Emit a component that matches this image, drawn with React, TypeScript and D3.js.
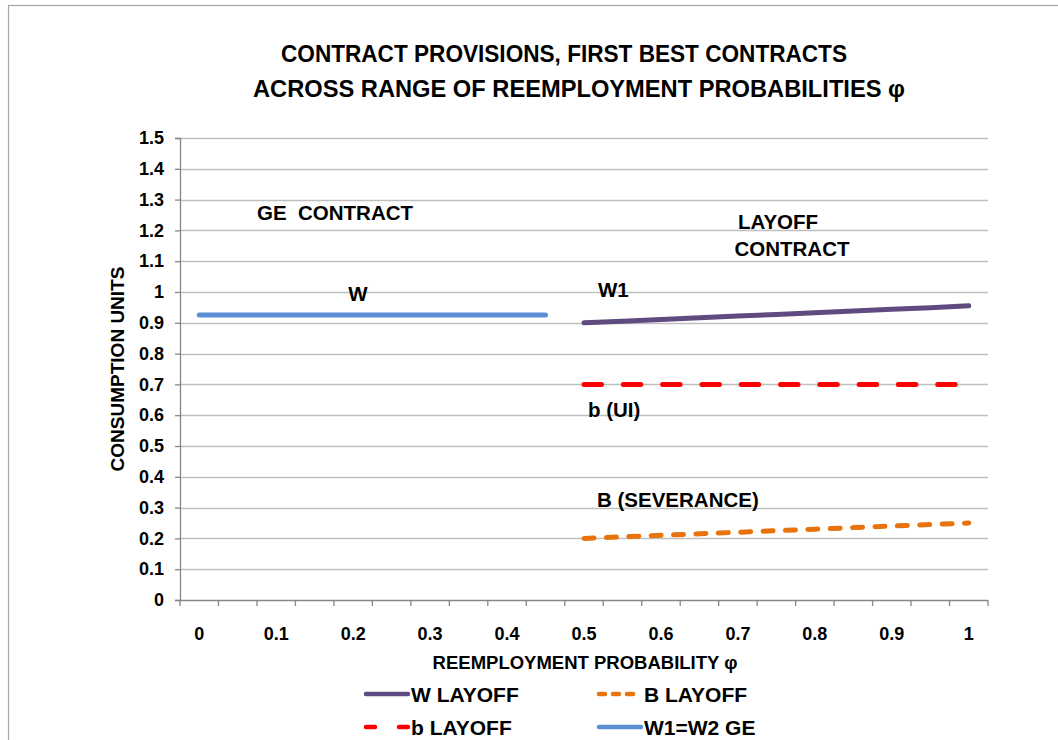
import React, { useRef, useEffect } from 'react';
import * as d3 from 'd3';

// reemployment probability categories (every second one is labelled)
const phi = ['0', '0.05', '0.1', '0.15', '0.2', '0.25', '0.3', '0.35', '0.4', '0.45', '0.5',
  '0.55', '0.6', '0.65', '0.7', '0.75', '0.8', '0.85', '0.9', '0.95', '1'];
const xTickLabels = ['0', '0.1', '0.2', '0.3', '0.4', '0.5', '0.6', '0.7', '0.8', '0.9', '1'];
const yTicks = [0, 0.1, 0.2, 0.3, 0.4, 0.5, 0.6, 0.7, 0.8, 0.9, 1, 1.1, 1.2, 1.3, 1.4, 1.5];

const wLayoff = [null, null, null, null, null, null, null, null, null, null,
  0.900, 0.905, 0.911, 0.916, 0.922, 0.927, 0.933, 0.938, 0.944, 0.949, 0.955];
const bSeverance = [null, null, null, null, null, null, null, null, null, null,
  0.200, 0.205, 0.210, 0.215, 0.220, 0.225, 0.230, 0.235, 0.240, 0.245, 0.250];
const bUI = [null, null, null, null, null, null, null, null, null, null,
  0.7, 0.7, 0.7, 0.7, 0.7, 0.7, 0.7, 0.7, 0.7, 0.7, 0.7];
const wGE = [0.925, 0.925, 0.925, 0.925, 0.925, 0.925, 0.925, 0.925, 0.925, 0.925,
  null, null, null, null, null, null, null, null, null, null, null];

const FONT = '"Liberation Sans", Arial, sans-serif';

const App = () => {
  const ref = useRef<SVGSVGElement>(null);

  useEffect(() => {
    const svg = d3.select(ref.current);
    svg.selectAll('*').remove();

    const W = 1058, H = 740;
    const plot = { left: 180, right: 988, top: 138, bottom: 600 };

    svg.append('rect').attr('width', W).attr('height', H).attr('fill', '#fff');
    // outer chart frame
    svg.append('rect')
      .attr('x', 8.5).attr('y', 5.5).attr('width', 1100).attr('height', 800)
      .attr('fill', 'none').attr('stroke', '#a6a6a6').attr('stroke-width', 1.2);

    const x = d3.scaleBand<string>().domain(phi).range([plot.left, plot.right]).padding(0);
    const y = d3.scaleLinear().domain([0, 1.5]).range([plot.bottom, plot.top]);
    const cx = (c: string) => (x(c) as number) + x.bandwidth() / 2;

    // title
    const title = svg.append('g')
      .attr('font-family', '"Liberation Sans Narrow", "Liberation Sans", Arial, sans-serif')
      .attr('font-weight', 'bold').attr('font-size', 24).attr('fill', '#000')
      .attr('text-anchor', 'middle');
    title.append('text').attr('x', 564).attr('y', 62)
      .attr('textLength', 566).attr('lengthAdjust', 'spacingAndGlyphs')
      .text('CONTRACT PROVISIONS, FIRST BEST CONTRACTS');
    title.append('text').attr('x', 579).attr('y', 97)
      .attr('textLength', 652).attr('lengthAdjust', 'spacingAndGlyphs')
      .text('ACROSS RANGE OF REEMPLOYMENT PROBABILITIES φ');

    // gridlines
    svg.append('g').selectAll('line').data(yTicks.filter(d => d > 0)).join('line')
      .attr('x1', plot.left).attr('x2', plot.right)
      .attr('y1', d => Math.round(y(d)) + 0.5).attr('y2', d => Math.round(y(d)) + 0.5)
      .attr('stroke', '#bfbfbf').attr('stroke-width', 1.3);

    // y axis
    const yAxis = svg.append('g')
      .attr('transform', `translate(${plot.left},0)`)
      .call(d3.axisLeft(y).tickValues(yTicks).tickSize(5).tickPadding(11)
        .tickFormat(d => String(+(+d).toFixed(1))));
    yAxis.select('.domain').attr('stroke', '#868686').attr('stroke-width', 1.3);
    yAxis.selectAll('.tick line').attr('stroke', '#868686').attr('stroke-width', 1.3);
    yAxis.selectAll('.tick text')
      .attr('font-family', FONT).attr('font-weight', 'bold').attr('font-size', 18)
      .attr('fill', '#000');

    // x axis: line, ticks at category boundaries, labels every second category
    const xg = svg.append('g');
    xg.append('line').attr('x1', plot.left).attr('x2', plot.right)
      .attr('y1', plot.bottom + 0.5).attr('y2', plot.bottom + 0.5)
      .attr('stroke', '#868686').attr('stroke-width', 1.3);
    const bounds = phi.map(c => x(c) as number).concat([plot.right]);
    xg.selectAll('line.tk').data(bounds).join('line').attr('class', 'tk')
      .attr('x1', d => d).attr('x2', d => d)
      .attr('y1', plot.bottom).attr('y2', plot.bottom + 6)
      .attr('stroke', '#868686').attr('stroke-width', 1.3);
    xg.selectAll('text').data(xTickLabels).join('text')
      .attr('x', d => cx(d)).attr('y', 640)
      .attr('text-anchor', 'middle')
      .attr('font-family', FONT).attr('font-weight', 'bold').attr('font-size', 18)
      .text(d => d);

    // axis titles
    svg.append('text').attr('x', 585).attr('y', 669).attr('text-anchor', 'middle')
      .attr('font-family', FONT).attr('font-weight', 'bold').attr('font-size', 18.5)
      .text('REEMPLOYMENT PROBABILITY φ');
    svg.append('text')
      .attr('transform', 'translate(124,369) rotate(-90)')
      .attr('text-anchor', 'middle')
      .attr('font-family', FONT).attr('font-weight', 'bold').attr('font-size', 19)
      .text('CONSUMPTION UNITS');

    // series
    const series = [
      { name: 'W1=W2 GE', values: wGE, color: '#5a8fd5', width: 5, dash: null },
      { name: 'W LAYOFF', values: wLayoff, color: '#5f4b7f', width: 5, dash: null },
      { name: 'b LAYOFF', values: bUI, color: '#ff0000', width: 5, dash: '17.5 21.8' },
      { name: 'B LAYOFF', values: bSeverance, color: '#e8720c', width: 5, dash: '10 12.4' },
    ];
    const line = d3.line<number | null>()
      .defined(d => d !== null)
      .x((_, i) => cx(phi[i]))
      .y(d => y(d as number));
    series.forEach(s => {
      svg.append('path').datum(s.values)
        .attr('d', line)
        .attr('fill', 'none').attr('stroke', s.color).attr('stroke-width', s.width)
        .attr('stroke-linecap', 'round').attr('stroke-linejoin', 'round')
        .attr('stroke-dasharray', s.dash);
    });

    // annotations
    const notes = [
      { t: 'GE  CONTRACT', x: 257, y: 220, a: 'start' },
      { t: 'W', x: 358, y: 301, a: 'middle' },
      { t: 'W1', x: 598, y: 297, a: 'start' },
      { t: 'LAYOFF', x: 778, y: 229, a: 'middle' },
      { t: 'CONTRACT', x: 792, y: 256, a: 'middle' },
      { t: 'b (UI)', x: 588, y: 417, a: 'start' },
      { t: 'B (SEVERANCE)', x: 597, y: 507, a: 'start' },
    ];
    svg.append('g').selectAll('text').data(notes).join('text')
      .attr('x', d => d.x).attr('y', d => d.y).attr('text-anchor', d => d.a)
      .attr('font-family', FONT).attr('font-weight', 'bold').attr('font-size', 20.5)
      .style('white-space', 'pre')
      .text(d => d.t);

    // legend
    const legend = [
      { s: series[1], x: 366, y: 694 },
      { s: series[3], x: 599, y: 694 },
      { s: series[2], x: 366, y: 727 },
      { s: series[0], x: 599, y: 727 },
    ];
    const lg = svg.append('g').selectAll('g').data(legend).join('g')
      .attr('transform', d => `translate(${d.x},${d.y})`);
    lg.append('line').attr('x1', 0).attr('x2', 42).attr('y1', 0).attr('y2', 0)
      .attr('stroke', d => d.s.color).attr('stroke-width', 4.5)
      .attr('stroke-linecap', 'round')
      .attr('stroke-dasharray', d => d.s.name === 'b LAYOFF' ? '9 24' : d.s.name === 'B LAYOFF' ? '6 8' : null);
    lg.append('text').attr('x', 45).attr('y', 7.5)
      .attr('font-family', FONT).attr('font-weight', 'bold').attr('font-size', 21)
      .text(d => d.s.name);
  }, []);

  return (
    <svg ref={ref} width={1058} height={740}
      style={{ position: 'absolute', left: 0, top: 0, display: 'block' }} />
  );
};

export default App;
